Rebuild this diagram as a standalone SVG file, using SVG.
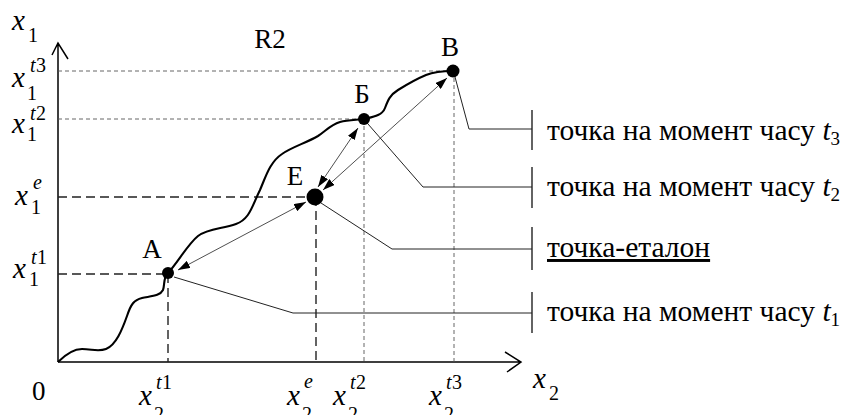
<svg xmlns="http://www.w3.org/2000/svg" width="846" height="415" viewBox="0 0 846 415">
<style>
text{font-family:"Liberation Serif","Times New Roman",serif;fill:#000}
.v{font-style:italic;font-size:29px}
.s{font-size:20px}
.si{font-size:20px;font-style:italic}
.lbl{font-size:27px}
.rt{font-size:29.5px}
.axis{stroke:#000;stroke-width:1.5;fill:none}
.dl{stroke:#555;stroke-width:0.9;stroke-dasharray:4 3;fill:none}
.dd{stroke:#222;stroke-width:1.4;stroke-dasharray:9 5;fill:none}
.lead{stroke:#222;stroke-width:1;fill:none}
.bar{stroke:#222;stroke-width:1.4}
.arr{stroke:#222;stroke-width:0.8;fill:none;marker-start:url(#ah);marker-end:url(#ah)}
</style>
<defs>
<marker id="ah" viewBox="0 0 12 8" refX="12" refY="4" markerWidth="12" markerHeight="8" markerUnits="userSpaceOnUse" orient="auto-start-reverse">
<path d="M0,0 L12,4 L0,8 Z" fill="#000"/>
</marker>
</defs>
<g id="axes">
<path class="axis" d="M58,362 V43 M52,55 L58,43 L68,59"/>
<path class="axis" d="M58,362 H521 M505,352 L521,362 L507,372"/>
</g>
<g id="guides">
<path class="dl" d="M58,71 H453 M58,119 H364 M364,119 V362 M454,71 V362"/>
<path class="dd" d="M58,197 H315 M58,274 H168 M168,274 V362 M316,197 V362"/>
</g>
<g id="curve">
<path fill="none" stroke="#000" stroke-width="2.1" d="M58,362 C66,354 74,349 82,349 C92,349 98,352 106,349 C116,345 122,330 127,316 C131,304 134,300 142,298 C152,296 160,296 163,290 C165,284 163,278 168,273 C178,262 188,244 198,236 C208,228 222,229 236,224 C250,219 252,206 260,190 C266,176 270,162 282,154 C292,147 306,143 318,136 C326,131 330,125 340,122 C348,120 356,120 364,119 C372,117 382,116 385,108 C388,100 390,95 398,90 C406,85 414,80 426,75 C436,71 446,71 453,71"/>
</g>
<g id="connectors">
<line class="arr" x1="178" y1="270" x2="306" y2="202"/>
<line class="arr" x1="358" y1="128" x2="318" y2="187"/>
<line class="arr" x1="447" y1="78" x2="323" y2="190"/>
<path class="lead" d="M455,77 L469,129 H532"/>
<path class="lead" d="M368,124 L423,187 H532"/>
<path class="lead" d="M321,203 L392,249 H532"/>
<path class="lead" d="M174,277 L293,313 H532"/>
</g>
<g id="pointA"><circle cx="168" cy="273" r="6"/><text class="lbl" x="152" y="258" text-anchor="middle">А</text></g>
<g id="pointB1"><circle cx="364" cy="119" r="6"/><text class="lbl" x="362" y="103" text-anchor="middle">Б</text></g>
<g id="pointV"><circle cx="453" cy="71" r="6.5"/><text class="lbl" x="450" y="56" text-anchor="middle">В</text></g>
<g id="pointE"><circle cx="315" cy="197" r="8.5"/><text class="lbl" x="295" y="185" text-anchor="middle">Е</text></g>
<g id="region"><text class="lbl" x="270" y="48" text-anchor="middle">R2</text></g>
<g id="legend-t3"><line class="bar" x1="532" y1="110" x2="532" y2="150"/><text class="rt" x="547" y="140">точка на момент часу <tspan font-style="italic">t</tspan><tspan font-size="19" dy="5">3</tspan></text></g>
<g id="legend-t2"><line class="bar" x1="532" y1="167" x2="532" y2="208"/><text class="rt" x="547" y="196">точка на момент часу <tspan font-style="italic">t</tspan><tspan font-size="19" dy="5">2</tspan></text></g>
<g id="legend-e"><line class="bar" x1="532" y1="227" x2="532" y2="270"/><text class="rt" x="547" y="257" text-decoration="underline">точка-еталон</text></g>
<g id="legend-t1"><line class="bar" x1="532" y1="292" x2="532" y2="333"/><text class="rt" x="547" y="321">точка на момент часу <tspan font-style="italic">t</tspan><tspan font-size="19" dy="5">1</tspan></text></g>
<g id="ylabels">
<text class="v" x="12" y="30">x</text><text class="s" x="28" y="42">1</text>
<text class="v" x="12" y="87">x</text><text class="si" x="30" y="72">t</text><text class="s" x="36" y="72">3</text><text class="s" x="27" y="100">1</text>
<text class="v" x="12" y="133">x</text><text class="si" x="30" y="120">t</text><text class="s" x="36" y="120">2</text><text class="s" x="27" y="141">1</text>
<text class="v" x="15" y="205">x</text><text class="si" x="33" y="189">e</text><text class="s" x="31" y="214">1</text>
<text class="v" x="13" y="278">x</text><text class="si" x="31" y="264">t</text><text class="s" x="37" y="264">1</text><text class="s" x="29" y="286">1</text>
</g>
<g id="xlabels">
<text class="lbl" x="32" y="400">0</text>
<text class="v" x="139" y="405">x</text><text class="si" x="156" y="389">t</text><text class="s" x="162" y="389">1</text><text class="s" x="154" y="421">2</text>
<text class="v" x="287" y="405">x</text><text class="si" x="304" y="388">e</text><text class="s" x="302" y="421">2</text>
<text class="v" x="333" y="405">x</text><text class="si" x="350" y="389">t</text><text class="s" x="356" y="389">2</text><text class="s" x="348" y="421">2</text>
<text class="v" x="429" y="405">x</text><text class="si" x="446" y="389">t</text><text class="s" x="452" y="389">3</text><text class="s" x="444" y="421">2</text>
<text class="v" x="533" y="388">x</text><text class="s" x="549" y="400">2</text>
</g>
</svg>
